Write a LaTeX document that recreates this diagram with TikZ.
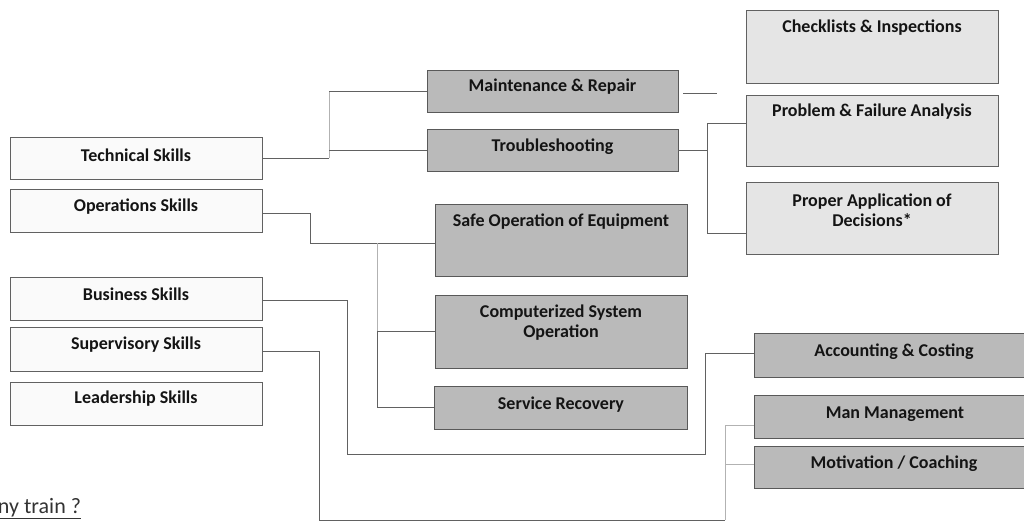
\documentclass[tikz,border=0pt]{standalone}
\usepackage{fontspec}
\setmainfont{Carlito}
\begin{document}
\begin{tikzpicture}[x=1pt,y=-1pt,
  every node/.style={inner sep=0pt, outer sep=0pt},
  skill/.style={draw=black!62, line width=1pt, fill=black!2, rectangle},
  topic/.style={draw=black!65, line width=1pt, fill=black!27, rectangle},
  detail/.style={draw=black!62, line width=1pt, fill=black!10, rectangle},
  lbl/.style={font=\fontsize{18}{20}\selectfont\bfseries, text=black!92, align=center},
  wire/.style={draw=black!62, line width=0.9pt},
  faint/.style={draw=black!30, line width=0.8pt}]
\useasboundingbox (0,0) rectangle (1024,522);
\clip (0,0) rectangle (1024,522);

% ---- skill areas (left column) ----
\node[skill, minimum width=252, minimum height=42] (tech) at (136,158) {};
\node[skill, minimum width=252, minimum height=43] (ops)  at (136,210.5) {};
\node[skill, minimum width=252, minimum height=43] (bus)  at (136,298.5) {};
\node[skill, minimum width=252, minimum height=44] (sup)  at (136,349) {};
\node[skill, minimum width=252, minimum height=43] (lead) at (136,403.5) {};
\node[lbl] (tech-t) at (136,155) {Technical Skills};
\node[lbl] (ops-t)  at (136,207) {Operations Skills};
\node[lbl] (bus-t)  at (136,294) {Business Skills};
\node[lbl] (sup-t)  at (136,345) {Supervisory Skills};
\node[lbl] (lead-t) at (136,399) {Leadership Skills};

% ---- training topics (middle column) ----
\node[topic, minimum width=251, minimum height=42] (maint) at (552.5,91) {};
\node[topic, minimum width=251, minimum height=42] (trbl)  at (552.5,150) {};
\node[topic, minimum width=252, minimum height=72] (safe)  at (561,240) {};
\node[topic, minimum width=252, minimum height=73] (comp)  at (561,331.5) {};
\node[topic, minimum width=253, minimum height=43] (serv)  at (560.5,407.5) {};
\node[lbl] (maint-t) at (552.5,87) {Maintenance \& Repair};
\node[lbl] (trbl-t)  at (552.5,147) {Troubleshooting};
\node[lbl] (safe-t)  at (561,222) {Safe Operation of Equipment};
\node[lbl] (comp-t)  at (561,322.5) {Computerized System\\Operation};
\node[lbl] (serv-t)  at (561,405) {Service Recovery};

% ---- technical details (upper right) ----
\node[detail, minimum width=252, minimum height=73] (check)  at (872,46.5) {};
\node[detail, minimum width=252, minimum height=71] (prob)   at (872,130.5) {};
\node[detail, minimum width=252, minimum height=72] (proper) at (872,218) {};
\node[lbl] (check-t)  at (872,28) {Checklists \& Inspections};
\node[lbl] (prob-t)   at (872,112) {Problem \& Failure Analysis};
\node[lbl] (proper-t) at (872,210) {Proper Application of\\Decisions*};

% ---- management topics (lower right) ----
\node[topic, minimum width=280, minimum height=44] (acct) at (894,355) {};
\node[topic, minimum width=280, minimum height=43] (man)  at (894,416.5) {};
\node[topic, minimum width=280, minimum height=42] (mot)  at (894,467) {};
\node[lbl] (acct-t) at (894,352) {Accounting \& Costing};
\node[lbl] (man-t)  at (895,414) {Man Management};
\node[lbl] (mot-t)  at (894,464) {Motivation / Coaching};

% ---- junction columns ----
\coordinate (tj) at (329,0);
\coordinate (oj) at (310,243);
\coordinate (cj) at (377,0);
\coordinate (pj) at (707,0);
\coordinate (bj) at (347,454);
\coordinate (aj) at (705,0);
\coordinate (sj) at (319,520);
\coordinate (mj) at (725,0);
\coordinate (mstub) at (717,93);

% Technical Skills -> Maintenance / Troubleshooting
\draw[wire] (tech.east) -- (tech.east -| tj);
\draw[faint] (tech.east -| tj) -- (tj |- maint.west);
\draw[wire] (tj |- maint.west) -- (maint.west);
\draw[wire] (tj |- trbl.west) -- (trbl.west);
\draw[wire] ([xshift=5pt,yshift=-2pt]maint.east) -- (mstub);

% Troubleshooting -> analysis and decisions
\draw[wire] (trbl.east) -- (trbl.east -| pj);
\draw[wire] ([yshift=7.5pt]prob.west -| pj) -- ([yshift=-15pt]proper.west -| pj);
\draw[wire] ([yshift=7.5pt]prob.west -| pj) -- ([yshift=7.5pt]prob.west);
\draw[wire] ([yshift=-15pt]proper.west -| pj) -- ([yshift=-15pt]proper.west);

% Operations Skills -> equipment, systems, recovery
\draw[wire] ([yshift=-2.5pt]ops.east) -| (oj) -- (oj -| safe.west);
\draw[faint] (cj |- oj) -- (cj |- comp.west);
\draw[wire] (cj |- comp.west) -- (comp.west);
\draw[wire] (cj |- comp.west) |- (serv.west);

% Business Skills -> Accounting & Costing
\draw[wire] ([yshift=-1.5pt]bus.east) -| (bj) -- (bj -| aj) |- ([yshift=2pt]acct.west);

% Supervisory Skills -> Man Management / Motivation
\draw[wire] ([yshift=-2pt]sup.east) -| (sj) -- (sj -| mj);
\draw[faint] (sj -| mj) -- ([yshift=-8.5pt]man.west -| mj);
\draw[faint] ([yshift=-8.5pt]man.west -| mj) -- ([yshift=-8.5pt]man.west);
\draw[faint] ([yshift=3pt]mot.west -| mj) -- ([yshift=3pt]mot.west);

% caption fragment at the lower left
\node[anchor=base west, font=\fontsize{22}{26}\selectfont, text=black!80] (why) at (-2,513) {\underline{ny train ?}};
\end{tikzpicture}
\end{document}
